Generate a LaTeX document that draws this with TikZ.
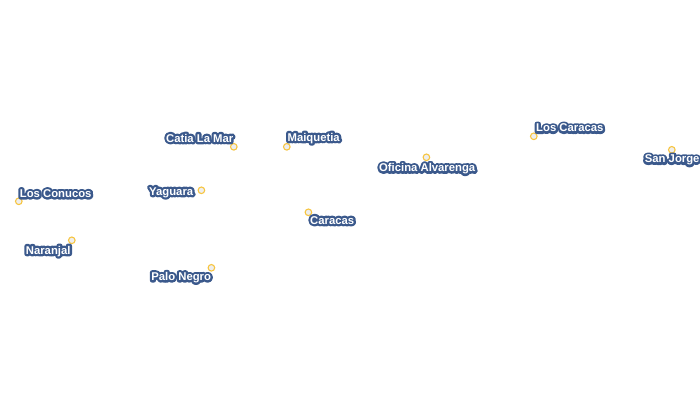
\documentclass[tikz,border=0pt]{standalone}
\usepackage{fontspec}
\setmainfont{Liberation Sans}
\definecolor{ptfill}{HTML}{EEEEEE}
\definecolor{ptline}{HTML}{F7C540}
\newcommand{\halotext}[1]{\rlap{\special{pdf:code q 1 Tr 4.6 w 1 j 1 J 0.23 0.35 0.55 RG}#1\special{pdf:code Q}}\textcolor{white}{#1}}
\tikzset{
  city/.style={circle,draw=ptline,fill=ptfill,line width=1.1pt,minimum size=6.6pt,inner sep=0pt},
  citylabel/.style={inner sep=0pt,anchor=base,font=\fontsize{11.3}{13}\selectfont\bfseries}
}
\begin{document}
\begin{tikzpicture}[x=1pt,y=-1pt]
\useasboundingbox (0,0) rectangle (700,410);
\node[city] (p1) at (233.8,146.8) {};
\node[city] (p2) at (18.8,201.3) {};
\node[city] (p3) at (201.4,190.3) {};
\node[city] (p4) at (71.8,240.3) {};
\node[city] (p5) at (211.4,267.8) {};
\node[city] (p6) at (286.8,146.8) {};
\node[city] (p7) at (426.4,157.3) {};
\node[city] (p8) at (308.4,212.3) {};
\node[city] (p9) at (533.8,136.3) {};
\node[city] (p10) at (671.8,149.8) {};
\node[citylabel] (l1) at (199.7,142) {\halotext{Catia La Mar}};
\node[citylabel] (l2) at (55.7,197.3) {\halotext{Los Conucos}};
\node[citylabel] (l3) at (171.2,195) {\halotext{Yaguara}};
\node[citylabel] (l4) at (48.2,254) {\halotext{Naranjal}};
\node[citylabel] (l5) at (181.2,280.3) {\halotext{Palo Negro}};
\node[citylabel] (l6) at (313.7,141) {\halotext{Maiquetia}};
\node[citylabel] (l7) at (427.2,171.5) {\halotext{Oficina Alvarenga}};
\node[citylabel] (l8) at (332.2,224) {\halotext{Caracas}};
\node[citylabel] (l9) at (569.8,131.7) {\halotext{Los Caracas}};
\node[citylabel] (l10) at (672.2,162.7) {\halotext{San Jorge}};
\end{tikzpicture}
\end{document}
